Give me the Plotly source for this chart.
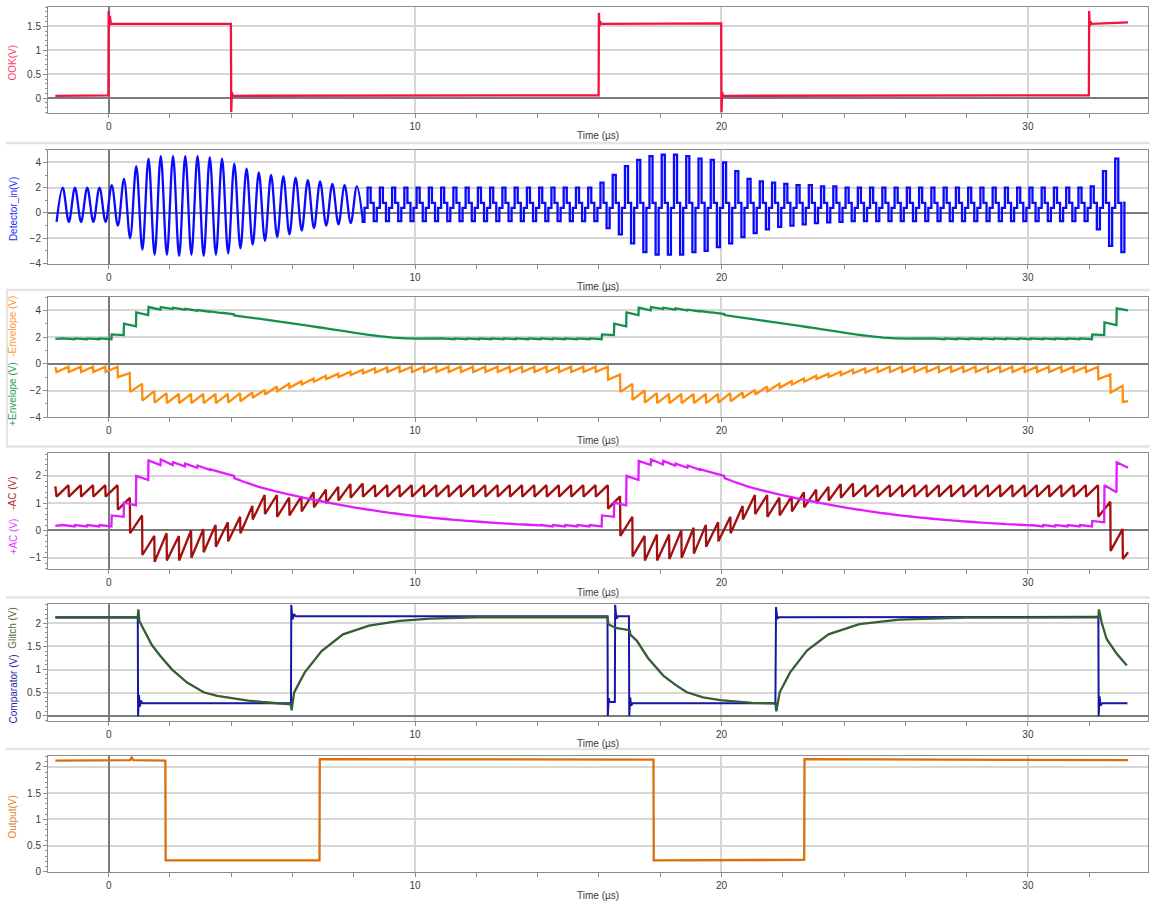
import plotly.graph_objects as go

# ---------------------------------------------------------------------------
# Carrier timing (µs): Detector_in crests / troughs repeat every PERIOD
# ---------------------------------------------------------------------------
CREST_T0 = -1.5
TROUGH_T0 = -1.7
PERIOD = 0.4
T_START = -1.74
T_STOP = 33.27

# Detector_in: crest voltage of each carrier cycle (87) and trough voltage (88)
DET_CREST = ([2.0] * 4
             + [2.2, 2.7, 3.7, 4.3, 4.5, 4.5, 4.5, 4.5, 4.4, 4.3]
             + [3.9, 3.5, 3.2, 3.0, 2.9, 2.8, 2.6, 2.5, 2.3, 2.2, 2.1]
             + [2.0] * 19
             + [2.4, 3.0, 3.7, 4.2, 4.5, 4.6, 4.6, 4.5, 4.3, 4.2]
             + [4.0, 3.3, 2.7, 2.5, 2.4, 2.3, 2.2, 2.2, 2.1, 2.1]
             + [2.0] * 20
             + [2.1, 3.3, 4.3])
DET_TROUGH = ([-0.7] * 5
              + [-1.0, -2.0, -2.9, -3.3, -3.3, -3.4, -3.3, -3.4, -3.3, -3.2]
              + [-2.8, -2.5, -2.2, -1.9, -1.7, -1.4, -1.2, -1.0, -0.9, -0.8, -0.7]
              + [-0.65] * 19
              + [-1.2, -1.7, -2.4, -3.1, -3.3, -3.3, -3.3, -3.1, -3.0, -2.7]
              + [-2.4, -1.9, -1.6, -1.3, -1.1, -1.0, -0.9, -0.8, -0.75, -0.7]
              + [-0.65] * 20
              + [-1.3, -2.6, -3.1])
DET_FALL_STEP = 0.8     # intermediate level on the falling edge
DET_RISE_STEP = 0.4     # intermediate level on the rising edge
DET_END = 0.9
SMOOTH_CYCLES = 25      # cycles drawn as a smooth sine before the stepped part

# +Envelope: value after each crest and just before the next one
ENV_POS_JUMP = ([1.9] * 4
                + [2.2, 3.0, 3.85, 4.25, 4.25, 4.2, 4.12, 4.02, 3.92, 3.82, 3.62]
                + [3.5, 3.38, 3.25, 3.12, 2.99, 2.86, 2.72, 2.58, 2.44, 2.3, 2.17, 2.05, 1.96, 1.91, 1.88, 1.87]
                + [1.9] * 13
                + [2.2, 3.0, 3.85, 4.2, 4.25, 4.2, 4.15, 4.05, 3.95, 3.85, 3.65]
                + [3.52, 3.38, 3.25, 3.12, 2.99, 2.86, 2.72, 2.58, 2.44, 2.3, 2.17, 2.05, 1.96, 1.91, 1.88, 1.87]
                + [1.9] * 13
                + [2.2, 3.1, 4.15])
ENV_POS_SAG = ([1.84] * 4
               + [2.15, 2.8, 3.65, 4.05, 4.1, 4.05, 3.98, 3.9, 3.8, 3.7, 3.5]
               + [3.38, 3.25, 3.12, 2.99, 2.86, 2.72, 2.58, 2.44, 2.3, 2.17, 2.05, 1.96, 1.91, 1.88, 1.87, 1.86]
               + [1.84] * 13
               + [2.15, 2.8, 3.65, 4.0, 4.1, 4.05, 4.0, 3.92, 3.83, 3.73, 3.52]
               + [3.38, 3.25, 3.12, 2.99, 2.86, 2.72, 2.58, 2.44, 2.3, 2.17, 2.05, 1.96, 1.91, 1.88, 1.87, 1.86]
               + [1.84] * 13
               + [2.15, 2.9, 4.0])

# -Envelope: value after each trough and just before the next one
ENV_NEG_DROP = ([-0.62] * 5
                + [-1.0, -2.1, -2.75, -2.9, -2.95, -2.95, -2.95, -2.95, -2.95, -2.9]
                + [-2.8, -2.55, -2.3, -2.05, -1.8, -1.55, -1.35, -1.15, -1.0, -0.85, -0.72, -0.65]
                + [-0.62] * 18
                + [-1.2, -2.1, -2.7, -2.9, -2.95, -2.95, -2.95, -2.95, -2.95, -2.9]
                + [-2.8, -2.55, -2.3, -2.05, -1.8, -1.55, -1.35, -1.15, -1.0, -0.85, -0.72, -0.65]
                + [-0.62] * 18
                + [-1.15, -2.15, -2.85])
ENV_NEG_RELAX = ([-0.22] * 5
                 + [-0.7, -1.5, -2.05, -2.2, -2.25, -2.25, -2.25, -2.25, -2.25, -2.2]
                 + [-2.15, -1.95, -1.7, -1.5, -1.3, -1.1, -0.9, -0.75, -0.6, -0.45, -0.35, -0.28]
                 + [-0.22] * 18
                 + [-0.8, -1.5, -2.0, -2.2, -2.25, -2.25, -2.25, -2.25, -2.25, -2.2]
                 + [-2.15, -1.95, -1.7, -1.5, -1.3, -1.1, -0.9, -0.75, -0.6, -0.45, -0.35, -0.28]
                 + [-0.22] * 18
                 + [-0.8, -1.65, -2.8])

# +AC: value after each crest and just before the next one
AC_POS_JUMP = ([0.2] * 4
               + [0.55, 1.02, 2.0, 2.57, 2.6, 2.5, 2.45, 2.38, 2.25, 2.12, 1.92]
               + [1.75, 1.6, 1.48, 1.37, 1.27, 1.17, 1.08, 0.99, 0.91, 0.83, 0.76, 0.69,
                  0.63, 0.57, 0.52, 0.47, 0.43, 0.39, 0.35, 0.32, 0.29, 0.26, 0.23, 0.21]
               + [0.2] * 5
               + [0.55, 1.02, 2.0, 2.55, 2.6, 2.55, 2.45, 2.38, 2.25, 2.12, 1.92]
               + [1.75, 1.6, 1.48, 1.37, 1.27, 1.17, 1.08, 0.99, 0.91, 0.83, 0.76, 0.69,
                  0.63, 0.57, 0.52, 0.47, 0.43, 0.39, 0.35, 0.32, 0.29, 0.26, 0.23, 0.21]
               + [0.2] * 5
               + [0.35, 1.66, 2.5])
AC_POS_SAG = ([0.15] * 4
              + [0.5, 0.92, 1.85, 2.4, 2.4, 2.35, 2.3, 2.22, 2.12, 2.0, 1.75]
              + [1.6, 1.48, 1.37, 1.27, 1.17, 1.08, 0.99, 0.91, 0.83, 0.76, 0.69, 0.63,
                 0.57, 0.52, 0.47, 0.43, 0.39, 0.35, 0.32, 0.29, 0.26, 0.23, 0.21, 0.19]
              + [0.15] * 5
              + [0.5, 0.92, 1.85, 2.4, 2.42, 2.38, 2.3, 2.22, 2.12, 2.0, 1.75]
              + [1.6, 1.48, 1.37, 1.27, 1.17, 1.08, 0.99, 0.91, 0.83, 0.76, 0.69, 0.63,
                 0.57, 0.52, 0.47, 0.43, 0.39, 0.35, 0.32, 0.29, 0.26, 0.23, 0.21, 0.19]
              + [0.15] * 5
              + [0.3, 1.4, 2.3])

# -AC: value after each trough and just before the next one
AC_NEG_DROP = ([1.24] * 5
               + [0.76, -0.1, -0.9, -1.15, -1.1, -1.1, -1.0, -0.8, -0.6, -0.4]
               + [-0.1, 0.4, 0.6, 0.5, 0.55, 0.7, 0.85, 1.0, 1.1, 1.2]
               + [1.24] * 20
               + [0.8, -0.2, -0.95, -1.1, -1.1, -1.05, -1.0, -0.85, -0.6, -0.4]
               + [-0.1, 0.4, 0.6, 0.5, 0.55, 0.7, 0.85, 1.0, 1.1, 1.2]
               + [1.24] * 20
               + [0.5, -0.75, -1.05])
AC_NEG_RISE = ([1.66] * 5
               + [1.2, 0.55, -0.2, -0.1, -0.2, 0.0, 0.05, 0.2, 0.3, 0.5]
               + [0.9, 1.3, 1.3, 1.2, 1.25, 1.4, 1.5, 1.6, 1.7, 1.72]
               + [1.66] * 20
               + [1.25, 0.5, -0.2, -0.15, -0.15, 0.0, 0.1, 0.2, 0.3, 0.5]
               + [0.9, 1.3, 1.3, 1.2, 1.25, 1.4, 1.5, 1.6, 1.7, 1.72]
               + [1.66] * 20
               + [1.05, 0.05, -0.8])

# OOK modulating signal
OOK_T = [-1.74, -0.01, 0.0, 0.02, 0.04, 0.07, 3.99, 4.0, 4.02, 4.05,
         15.99, 16.0, 16.02, 16.04, 16.07, 19.99, 20.0, 20.02, 20.05,
         31.99, 32.0, 32.02, 32.04, 32.07, 33.27]
OOK_V = [0.05, 0.06, 1.82, 1.5, 1.72, 1.55, 1.55, -0.3, 0.12, 0.05,
         0.06, 1.78, 1.5, 1.6, 1.55, 1.56, -0.3, 0.12, 0.05,
         0.06, 1.82, 1.5, 1.6, 1.55, 1.58]

# Comparator output
COMP_T = [-1.74, 0.95, 0.96, 0.99, 1.02, 1.05, 1.1, 5.95, 5.96, 6.0, 6.05, 6.1,
          16.28, 16.29, 16.32, 16.35, 16.52, 16.53, 16.57, 16.62,
          16.98, 16.99, 17.02, 17.05, 17.1, 21.76, 21.78, 21.82, 21.87,
          32.3, 32.31, 32.34, 32.37, 32.42, 33.25]
COMP_V = [2.13, 2.13, 0.0, 0.45, 0.2, 0.33, 0.27, 0.27, 2.4, 2.08, 2.2, 2.15,
          2.15, 0.0, 0.38, 0.3, 0.3, 2.4, 2.1, 2.15,
          2.15, 0.0, 0.4, 0.22, 0.27, 0.27, 2.35, 2.1, 2.13,
          2.14, 0.0, 0.42, 0.22, 0.27, 0.27]

# Glitch filter node
GLITCH_T = [-1.74, 0.95, 0.97, 1.0, 1.14, 1.41, 1.68, 2.07, 2.56, 3.1,
            3.54, 4.0, 4.56, 5.0, 5.5, 5.95, 5.97, 6.05, 6.4, 6.95,
            7.65, 8.5, 9.5, 10.5, 12.0, 14.0, 16.28, 16.31, 16.55, 17.0,
            17.03, 17.24, 17.6, 18.1, 18.5, 18.87, 19.4, 19.96, 21.0, 21.76,
            21.79, 21.9, 22.24, 22.79, 23.49, 24.5, 25.8, 28.0, 32.3, 32.32,
            32.41, 32.57, 32.9, 33.23]
GLITCH_V = [2.12, 2.13, 2.3, 2.05, 1.87, 1.53, 1.3, 1.0, 0.72, 0.51,
            0.43, 0.38, 0.33, 0.3, 0.27, 0.25, 0.12, 0.5, 0.94, 1.4,
            1.76, 1.95, 2.05, 2.1, 2.13, 2.13, 2.13, 1.98, 1.9, 1.85,
            1.75, 1.62, 1.25, 0.87, 0.67, 0.51, 0.4, 0.34, 0.28, 0.27,
            0.1, 0.51, 0.94, 1.41, 1.76, 1.98, 2.08, 2.12, 2.13, 2.3,
            2.01, 1.66, 1.34, 1.09]

# Final output
OUT_T = [-1.74, 0.7, 0.75, 0.8, 1.85, 1.86, 6.88, 6.89, 17.78, 17.79, 22.7, 22.71, 33.27]
OUT_V = [2.12, 2.13, 2.19, 2.13, 2.12, 0.22, 0.22, 2.15, 2.14, 0.22, 0.23, 2.15, 2.13]

# ---------------------------------------------------------------------------
# Styling
# ---------------------------------------------------------------------------
W, H = 1150, 909
FONT = "Liberation Sans, Arial, sans-serif"
AXIS_COLOR = "#8c8c8c"
GRID_COLOR = "#d6d6d6"
ZERO_COLOR = "#7a7a7a"
X_RANGE = [-1.98, 33.92]
X_DOMAIN = [48 / W, 1148 / W]
LW = 2.3

# plot area top / bottom (px), y range, major and minor tick step
PANELS = [
    (6.7, 113.3, [-0.3, 1.91], 0.5, 0.1),
    (150.7, 265.3, [-4, 5], 2, 1),
    (299, 420, [-4, 5], 2, 1),
    (456, 572.7, [-1.41, 2.84], 1, 0.2),
    (608.3, 725.3, [-0.1, 2.41], 0.5, 0.1),
    (761, 877.7, [0, 2.21], 0.5, 0.1),
]


def ripple(t0, after, before, start_v):
    """Peak-detector style trace: a step at every event, then a slow drift."""
    xs, ys = [T_START], [start_v]
    for i, (a, b) in enumerate(zip(after, before)):
        t = t0 + PERIOD * i
        xs += [t, min(t + PERIOD - 0.01, T_STOP)]
        ys += [a, b]
    return xs, ys


fig = go.Figure()


def ax(i):
    return ("x", "y") if i == 1 else (f"x{i}", f"y{i}")


def add_line(panel, x, y, color, width=LW, shape="linear", **kw):
    xa, ya = ax(panel)
    fig.add_trace(go.Scatter(x=x, y=y, mode="lines", xaxis=xa, yaxis=ya,
                             line=dict(color=color, width=width, shape=shape),
                             hoverinfo="skip", **kw))


# Panel 1: OOK
add_line(1, OOK_T, OOK_V, "#f2113f")

# Panel 2: Detector_in -- smooth part (crest/trough alternation) then stepped part
smooth_y = []
for k in range(SMOOTH_CYCLES):
    smooth_y += [DET_TROUGH[k], DET_CREST[k]]
smooth_y.append(DET_TROUGH[SMOOTH_CYCLES])
add_line(2, None, smooth_y, "#0a0aff", shape="spline", x0=TROUGH_T0, dx=PERIOD / 2)

step_y = [DET_TROUGH[SMOOTH_CYCLES]]
for k in range(SMOOTH_CYCLES, len(DET_CREST)):
    step_y += [DET_RISE_STEP, DET_CREST[k], DET_FALL_STEP, DET_TROUGH[k + 1]]
step_y.append(DET_END)
add_line(2, None, step_y, "#0a0aff", shape="hv",
         x0=TROUGH_T0 + PERIOD * SMOOTH_CYCLES - PERIOD / 8, dx=PERIOD / 4)

# Panel 3: envelopes
ex, ey = ripple(CREST_T0, ENV_POS_JUMP, ENV_POS_SAG, 1.86)
add_line(3, ex, ey, "#14904c")
ex, ey = ripple(TROUGH_T0, ENV_NEG_DROP, ENV_NEG_RELAX, -0.25)
add_line(3, ex, ey, "#ff8c0a")

# Panel 4: AC coupled envelopes
ax_, ay_ = ripple(TROUGH_T0, AC_NEG_DROP, AC_NEG_RISE, 1.62)
add_line(4, ax_, ay_, "#a30f0f")
ax_, ay_ = ripple(CREST_T0, AC_POS_JUMP, AC_POS_SAG, 0.17)
add_line(4, ax_, ay_, "#e11cff")

# Panel 5: comparator and glitch
add_line(5, COMP_T, COMP_V, "#1515a8", width=2)
add_line(5, GLITCH_T, GLITCH_V, "#355e35")

# Panel 6: output
add_line(6, OUT_T, OUT_V, "#dc6e0c")

# ---------------------------------------------------------------------------
# Axes
# ---------------------------------------------------------------------------
tick_font = dict(family=FONT, size=10, color="#3a3a3a")
layout = {}
for i, (top, bot, yr, major, minor) in enumerate(PANELS, start=1):
    xa, ya = ax(i)
    xkey = "xaxis" if i == 1 else f"xaxis{i}"
    ykey = "yaxis" if i == 1 else f"yaxis{i}"
    layout[xkey] = dict(
        domain=X_DOMAIN, anchor=ya, range=X_RANGE, tick0=0, dtick=10,
        showgrid=True, gridcolor=GRID_COLOR, gridwidth=1.5,
        zeroline=True, zerolinecolor=ZERO_COLOR, zerolinewidth=2,
        showline=True, mirror=True, linecolor=AXIS_COLOR, linewidth=1,
        ticks="outside", ticklen=4, tickcolor=AXIS_COLOR, tickfont=tick_font,
        minor=dict(tick0=0, dtick=2, ticks="outside", ticklen=4,
                   tickcolor=AXIS_COLOR, showgrid=False),
        fixedrange=True,
    )
    layout[ykey] = dict(
        domain=[1 - bot / H, 1 - top / H], anchor=xa, range=yr, tick0=0, dtick=major,
        showgrid=True, gridcolor=GRID_COLOR, gridwidth=1.5,
        zeroline=True, zerolinecolor=ZERO_COLOR, zerolinewidth=2,
        showline=True, mirror=True, linecolor=AXIS_COLOR, linewidth=1,
        ticks="outside", ticklen=4, tickcolor=AXIS_COLOR, tickfont=tick_font,
        minor=dict(tick0=0, dtick=minor, ticks="outside", ticklen=2,
                   tickcolor=AXIS_COLOR, showgrid=False),
        fixedrange=True,
    )

# ---------------------------------------------------------------------------
# Titles
# ---------------------------------------------------------------------------
annotations = []
for top, bot, *_ in PANELS:
    annotations.append(dict(
        text="Time (µs)", xref="paper", yref="paper", showarrow=False,
        x=(X_DOMAIN[0] + X_DOMAIN[1]) / 2, y=1 - (bot + 23.5) / H,
        xanchor="center", yanchor="middle",
        font=dict(family=FONT, size=10, color="#3a3a3a")))

Y_TITLES = [
    ("OOK(V)", 63, "#ff3d6a"),
    ("Detector_in(V)", 210.5, "#2b2bff"),
    ("+Envelope (V)", 396.5, "#2a9a5a"),
    ("-Envelope (V)", 329, "#ff9a2e"),
    ("+AC (V)", 540, "#e23cff"),
    ("-AC (V)", 497, "#b02a2a"),
    ("Comparator (V)", 694, "#2626b0"),
    ("Glitch (V)", 632, "#4f6b3a"),
    ("Output(V)", 823, "#e4822a"),
]
for text, ypx, color in Y_TITLES:
    annotations.append(dict(
        text=text, xref="paper", yref="paper", showarrow=False,
        x=13 / W, y=1 - ypx / H, xanchor="center", yanchor="middle",
        textangle=-90, font=dict(family=FONT, size=10, color=color)))

# light panel separators
SEP_COLOR = "#e4e4e4"
shapes = []
for ypx in [144, 292, 449.5, 601.5, 754]:
    shapes.append(dict(type="line", xref="paper", yref="paper",
                       x0=6 / W, x1=1, y0=1 - ypx / H, y1=1 - ypx / H,
                       line=dict(color=SEP_COLOR, width=2.5)))
shapes.append(dict(type="line", xref="paper", yref="paper",
                   x0=7 / W, x1=7 / W, y0=1 - 292 / H, y1=1 - 449.5 / H,
                   line=dict(color=SEP_COLOR, width=2)))

fig.update_layout(
    width=W, height=H, margin=dict(l=0, r=0, t=0, b=0),
    paper_bgcolor="white", plot_bgcolor="white", showlegend=False,
    annotations=annotations, shapes=shapes, **layout)

fig.write_html("out.html")
